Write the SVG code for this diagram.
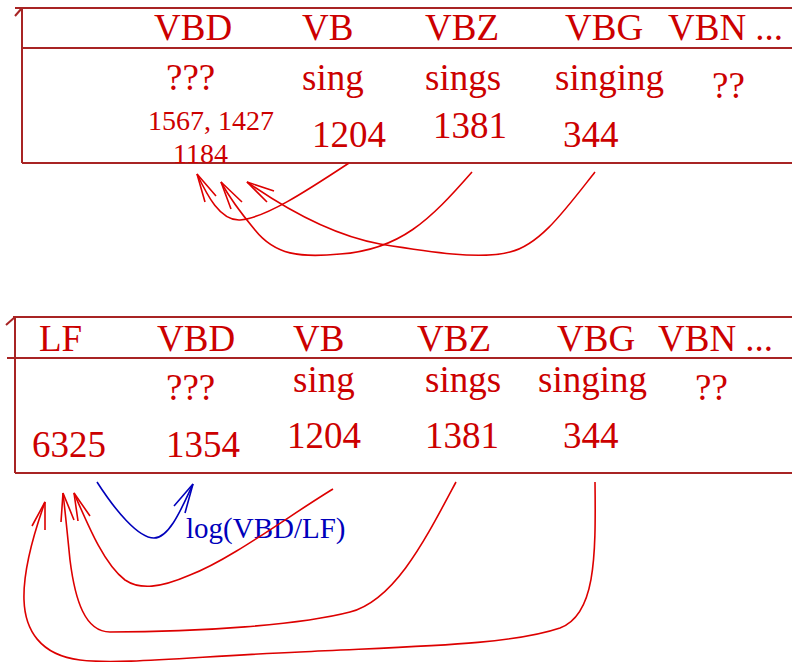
<svg xmlns="http://www.w3.org/2000/svg" width="792" height="662" viewBox="0 0 792 662">
  <style>
    .rule { stroke: #a82424; stroke-width: 2; fill: none; }
    .t { font-family: "Liberation Serif", "Times New Roman", serif; fill: #cc0000; }
    .big { font-size: 37px; }
    .small { font-size: 28px; }
    .lbl { font-family: "Liberation Serif", "Times New Roman", serif; font-size: 29px; fill: #0000bb; }
    .arc { stroke: #dd0000; stroke-width: 1.6; fill: none; }
    .arc-blue { stroke: #0000bb; stroke-width: 1.6; fill: none; }
  </style>
  <rect width="792" height="662" fill="#ffffff"/>

  <!-- upper table: counts of the known verb forms -->
  <g id="table-top">
    <path class="rule" d="M15,8 H792 M22,8 V163 M15,16 L22,8 M22,48 H792 M22,163 H792"/>
    <text class="t big" x="154" y="40">VBD</text>
    <text class="t big" x="302" y="40">VB</text>
    <text class="t big" x="425" y="40">VBZ</text>
    <text class="t big" x="565" y="40">VBG</text>
    <text class="t big" x="668" y="40">VBN ...</text>
    <text class="t big" x="166" y="90">???</text>
    <text class="t big" x="302" y="90">sing</text>
    <text class="t big" x="425" y="90">sings</text>
    <text class="t big" x="555" y="90">singing</text>
    <text class="t big" x="712" y="98">??</text>
    <text class="t small" x="148" y="130">1567, 1427</text>
    <text class="t small" x="173" y="163">1184</text>
    <text class="t big" x="312" y="147">1204</text>
    <text class="t big" x="433" y="138">1381</text>
    <text class="t big" x="563" y="147">344</text>
  </g>

  <!-- lower table: with the LF column -->
  <g id="table-bottom">
    <path class="rule" d="M13,317 H792 M15,317 V473 M6,325 L15,317 M7,358 H792 M15,473 H792"/>
    <text class="t big" x="39" y="351">LF</text>
    <text class="t big" x="157" y="351">VBD</text>
    <text class="t big" x="293" y="351">VB</text>
    <text class="t big" x="417" y="351">VBZ</text>
    <text class="t big" x="557" y="351">VBG</text>
    <text class="t big" x="658" y="351">VBN ...</text>
    <text class="t big" x="166" y="400">???</text>
    <text class="t big" x="293" y="392">sing</text>
    <text class="t big" x="425" y="392">sings</text>
    <text class="t big" x="538" y="392">singing</text>
    <text class="t big" x="695" y="400">??</text>
    <text class="t big" x="32" y="457">6325</text>
    <text class="t big" x="166" y="457">1354</text>
    <text class="t big" x="287" y="448">1204</text>
    <text class="t big" x="425" y="448">1381</text>
    <text class="t big" x="563" y="448">344</text>
  </g>

  <g id="connectors">
    <!-- upper table: counts feeding the VBD cell -->
    <path class="arc" d="M349,163 C305,192 265,218 240,220 C220,221 207,195 197,174"/>
    <polyline class="arc" points="205,202 197,174 216,196"/>
    <path class="arc" d="M472,172 C430,220 400,250 340,254 C300,258 275,255 255,230 C240,212 228,195 221,182"/>
    <polyline class="arc" points="231,209 221,182 242,202"/>
    <path class="arc" d="M595,172 C565,210 540,245 510,252 C480,260 430,252 380,244 C330,235 280,205 247,182"/>
    <polyline class="arc" points="267,202 247,182 274,191"/>

    <!-- lower table: LF to VBD ratio -->
    <path class="arc-blue" d="M97,482 C115,510 138,538 154,538 C170,538 183,505 193,484"/>
    <polyline class="arc-blue" points="174,506 193,484 185,513"/>
    <text class="lbl" x="186" y="538">log(VBD/LF)</text>

    <!-- lower table: counts feeding the LF cell -->
    <path class="arc" d="M333,489 C290,515 230,560 190,575 C160,588 140,590 125,580 C105,565 90,530 74,493"/>
    <polyline class="arc" points="78,521 74,493 90,516"/>
    <path class="arc" d="M456,482 C425,540 395,600 350,612 C300,625 200,632 110,632 C85,632 75,600 70,560 C67,530 65,510 63,493"/>
    <polyline class="arc" points="61,522 63,493 74,520"/>
    <path class="arc" d="M595,482 C596,560 595,615 560,628 C510,645 420,646 300,652 C200,656 120,665 80,660 C40,655 25,630 24,600 C23,570 35,530 45,502"/>
    <polyline class="arc" points="32,526 45,502 45,530"/>
  </g>
</svg>
